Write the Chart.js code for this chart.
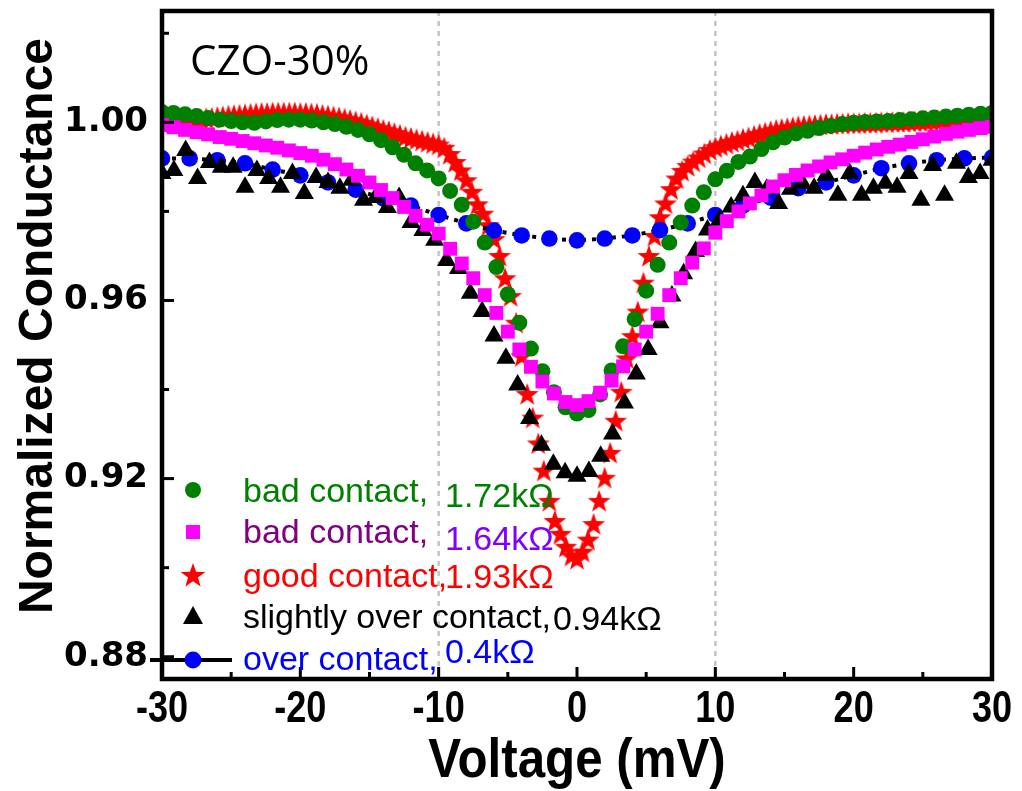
<!DOCTYPE html>
<html>
<head>
<meta charset="utf-8">
<script src="https://cdn.jsdelivr.net/npm/chart.js@4.4.0/dist/chart.umd.min.js"></script>
<style>
  html, body { margin: 0; padding: 0; background: #fff; }
  #wrap { width: 1022px; height: 791px; }
</style>
</head>
<body>
<div id="wrap"><canvas id="chart" width="1022" height="791"></canvas></div>
<script>
// Voltage grids (mV) for each measurement
const vRed = [
  -30, -29.6, -29.2, -28.8, -28.4, -28, -27.6, -27.2, -26.8, -26.4,
  -26, -25.6, -25.2, -24.8, -24.4, -24, -23.6, -23.2, -22.8, -22.4,
  -22, -21.6, -21.2, -20.8, -20.4, -20, -19.6, -19.2, -18.8, -18.4,
  -18, -17.6, -17.2, -16.8, -16.4, -16, -15.6, -15.2, -14.8, -14.4,
  -14, -13.6, -13.2, -12.8, -12.4, -12, -11.6, -11.2, -10.8, -10.4,
  -10, -9.6, -9.2, -8.8, -8.4, -8, -7.6, -7.2, -6.8, -6.4,
  -6, -5.6, -5.2, -4.8, -4.4, -4, -3.6, -3.2, -2.8, -2.4,
  -2, -1.6, -1.2, -0.8, -0.4, 0, 0.4, 0.8, 1.2, 1.6,
  2, 2.4, 2.8, 3.2, 3.6, 4, 4.4, 4.8, 5.2, 5.6,
  6, 6.4, 6.8, 7.2, 7.6, 8, 8.4, 8.8, 9.2, 9.6,
  10, 10.4, 10.8, 11.2, 11.6, 12, 12.4, 12.8, 13.2, 13.6,
  14, 14.4, 14.8, 15.2, 15.6, 16, 16.4, 16.8, 17.2, 17.6,
  18, 18.4, 18.8, 19.2, 19.6, 20, 20.4, 20.8, 21.2, 21.6,
  22, 22.4, 22.8, 23.2, 23.6, 24, 24.4, 24.8, 25.2, 25.6,
  26, 26.4, 26.8, 27.2, 27.6, 28, 28.4, 28.8, 29.2, 29.6, 30
];
const vGrid = [
  -30, -29.17, -28.33, -27.5, -26.67, -25.83, -25, -24.17, -23.33, -22.5,
  -21.67, -20.83, -20, -19.17, -18.33, -17.5, -16.67, -15.83, -15, -14.17,
  -13.33, -12.5, -11.67, -10.83, -10, -9.17, -8.33, -7.5, -6.67, -5.83,
  -5, -4.17, -3.33, -2.5, -1.67, -0.83, 0, 0.83, 1.67, 2.5,
  3.33, 4.17, 5, 5.83, 6.67, 7.5, 8.33, 9.17, 10, 10.83,
  11.67, 12.5, 13.33, 14.17, 15, 15.83, 16.67, 17.5, 18.33, 19.17,
  20, 20.83, 21.67, 22.5, 23.33, 24.17, 25, 25.83, 26.67, 27.5,
  28.33, 29.17, 30
];
const vBlack = [
  -30, -29.14, -28.29, -27.43, -26.57, -25.71, -24.86, -24, -23.14, -22.29,
  -21.43, -20.57, -19.71, -18.86, -18, -17.14, -16.29, -15.43, -14.57, -13.71,
  -12.86, -12, -11.14, -10.29, -9.43, -8.57, -7.71, -6.86, -6, -5.14,
  -4.29, -3.43, -2.57, -1.71, -0.86, 0, 0.86, 1.71, 2.57, 3.43,
  4.29, 5.14, 6, 6.86, 7.71, 8.57, 9.43, 10.29, 11.14, 12,
  12.86, 13.71, 14.57, 15.43, 16.29, 17.14, 18, 18.86, 19.71, 20.57,
  21.43, 22.29, 23.14, 24, 24.86, 25.71, 26.57, 27.43, 28.29, 29.14, 30
];
const vBlue = [
  -30, -28, -26, -24, -22, -20, -18, -16, -14, -12, -10, -8, -6, -4, -2, 0,
  2, 4, 6, 8, 10, 12, 14, 16, 18, 20, 22, 24, 26, 28, 30
];

// Normalized conductance
const gGreen = [
  1.0023, 1.0021, 1.0018, 1.0014, 1.0010, 1.0006, 1.0003, 1.0000, 0.9999, 1.0002,
  1.0005, 1.0006, 1.0006, 1.0004, 1.0000, 0.9996, 0.9990, 0.9983, 0.9973, 0.9960,
  0.9944, 0.9927, 0.9908, 0.9892, 0.9874, 0.9846, 0.9815, 0.9777, 0.9730, 0.9675,
  0.9614, 0.9550, 0.9492, 0.9441, 0.9394, 0.9360, 0.9346, 0.9354, 0.9389, 0.9443,
  0.9497, 0.9558, 0.9622, 0.9680, 0.9730, 0.9775, 0.9813, 0.9843, 0.9872, 0.9891,
  0.9911, 0.9923, 0.9940, 0.9955, 0.9966, 0.9975, 0.9981, 0.9987, 0.9992, 0.9996,
  0.9999, 1.0001, 1.0002, 1.0003, 1.0005, 1.0007, 1.0009, 1.0011, 1.0013, 1.0015,
  1.0017, 1.0019, 1.0021
];
const gPink = [
  0.9994, 0.9989, 0.9983, 0.9978, 0.9973, 0.9967, 0.9963, 0.9958, 0.9953, 0.9948,
  0.9943, 0.9937, 0.9931, 0.9925, 0.9916, 0.9906, 0.9894, 0.9880, 0.9865, 0.9848,
  0.9830, 0.9810, 0.9790, 0.9770, 0.9750, 0.9716, 0.9683, 0.9650, 0.9612, 0.9572,
  0.9530, 0.9490, 0.9451, 0.9418, 0.9391, 0.9372, 0.9365, 0.9374, 0.9393, 0.9420,
  0.9452, 0.9490, 0.9530, 0.9570, 0.9612, 0.9650, 0.9685, 0.9717, 0.9752, 0.9778,
  0.9800, 0.9818, 0.9836, 0.9856, 0.9870, 0.9882, 0.9892, 0.9901, 0.9910, 0.9917,
  0.9925, 0.9932, 0.9939, 0.9945, 0.9950, 0.9956, 0.9962, 0.9968, 0.9974, 0.9979,
  0.9983, 0.9987, 0.9990
];
const gRed = [
  0.9998, 0.9999, 1.0001, 1.0002, 1.0004, 1.0005, 1.0006, 1.0007, 1.0009, 1.0010,
  1.0012, 1.0013, 1.0015, 1.0016, 1.0017, 1.0018, 1.0019, 1.0020, 1.0021, 1.0021,
  1.0022, 1.0022, 1.0022, 1.0022, 1.0022, 1.0021, 1.0021, 1.0020, 1.0019, 1.0017,
  1.0015, 1.0013, 1.0011, 1.0008, 1.0005, 1.0002, 0.9999, 0.9995, 0.9991, 0.9987,
  0.9983, 0.9980, 0.9976, 0.9972, 0.9968, 0.9965, 0.9962, 0.9959, 0.9956, 0.9953,
  0.9950, 0.9943, 0.9929, 0.9911, 0.9892, 0.9870, 0.9844, 0.9816, 0.9795, 0.9769,
  0.9738, 0.9700, 0.9650, 0.9610, 0.9550, 0.9475, 0.9390, 0.9337, 0.9279, 0.9218,
  0.9150, 0.9105, 0.9076, 0.9047, 0.9027, 0.9020, 0.9036, 0.9063, 0.9098, 0.9150,
  0.9202, 0.9258, 0.9330, 0.9395, 0.9470, 0.9520, 0.9575, 0.9640, 0.9700, 0.9745,
  0.9787, 0.9818, 0.9850, 0.9874, 0.9891, 0.9902, 0.9912, 0.9921, 0.9930, 0.9938,
  0.9944, 0.9948, 0.9952, 0.9956, 0.9959, 0.9963, 0.9966, 0.9970, 0.9974, 0.9977,
  0.9980, 0.9983, 0.9985, 0.9987, 0.9989, 0.9991, 0.9992, 0.9993, 0.9994, 0.9995,
  0.9996, 0.9996, 0.9997, 0.9997, 0.9998, 0.9998, 0.9998, 0.9999, 0.9999, 0.9999,
  1.0000, 1.0000, 1.0001, 1.0001, 1.0001, 1.0002, 1.0002, 1.0003, 1.0003, 1.0004,
  1.0004, 1.0005, 1.0005, 1.0006, 1.0006, 1.0007, 1.0007, 1.0008, 1.0008, 1.0009, 1.0009
];
const gBlack = [
  0.9885, 0.9892, 0.9937, 0.9874, 0.9910, 0.9899, 0.9899, 0.9854, 0.9892, 0.9874,
  0.9854, 0.9885, 0.9840, 0.9876, 0.9865, 0.9852, 0.9870, 0.9825, 0.9831, 0.9809,
  0.9831, 0.9775, 0.9757, 0.9735, 0.9690, 0.9672, 0.9616, 0.9575, 0.9520, 0.9470,
  0.9410, 0.9335, 0.9275, 0.9232, 0.9213, 0.9205, 0.9216, 0.9250, 0.9300, 0.9370,
  0.9435, 0.9490, 0.9550, 0.9610, 0.9660, 0.9710, 0.9758, 0.9780, 0.9810, 0.9835,
  0.9865, 0.9850, 0.9818, 0.9850, 0.9863, 0.9852, 0.9881, 0.9836, 0.9885, 0.9836,
  0.9852, 0.9863, 0.9854, 0.9885, 0.9825, 0.9903, 0.9836, 0.9908, 0.9876, 0.9885, 0.9915
];
const gBlue = [
  0.9919, 0.9919, 0.9915, 0.9908, 0.9894, 0.9881, 0.9865, 0.9849, 0.9829, 0.9813,
  0.9792, 0.9773, 0.9757, 0.9746, 0.9739, 0.9735, 0.9739, 0.9746, 0.9758, 0.9773,
  0.9792, 0.9813, 0.9831, 0.9852, 0.9865, 0.9881, 0.9897, 0.9908, 0.9915, 0.9919, 0.9921
];

// Axis ticks
const xTicks = [-30, -20, -10, 0, 10, 20, 30];
const xMinor = [-25, -15, -5, 5, 15, 25];
const yTicks = [0.88, 0.92, 0.96, 1.00];
const yMinor = [0.90, 0.94, 0.98, 1.02];
const xGuides = [-10, 10];

// Legend text
const legendNames = ['bad contact,', 'bad contact,', 'good contact,', 'slightly over contact,', 'over contact,'];
const legendValues = ['1.72k\u03A9', '1.64k\u03A9', '1.93k\u03A9', '0.94k\u03A9', '0.4k\u03A9'];
const nameColors = ['#008000', '#800080', '#ff0000', '#000000', '#0000ff'];
const valueColors = ['#008000', '#8000ff', '#ff0000', '#000000', '#0000ff'];
const sampleLabel = 'CZO-30%';

const GREEN = '#008000', PINK = '#ff00ff', RED = '#ff0000', BLUE = '#0000ff';

function pts(xs, ys) {
    return xs.map((x, i) => ({ x: x, y: ys[i] }));
}

function starPath(ctx, cx, cy, outer, inner) {
    ctx.beginPath();
    for (let i = 0; i < 10; i++) {
        const r = i % 2 ? inner : outer;
        const a = -Math.PI / 2 + i * Math.PI / 5;
        ctx.lineTo(cx + r * Math.cos(a), cy + r * Math.sin(a));
    }
    ctx.closePath();
}

// filled star marker (Chart.js 'star' is only a line asterisk)
const starImg = document.createElement('canvas');
starImg.width = 26;
starImg.height = 26;
(function () {
    const c = starImg.getContext('2d');
    c.fillStyle = RED;
    starPath(c, 13, 14, 12, 4.8);
    c.fill();
})();

const decorations = {
    id: 'decorations',
    beforeDatasetsDraw(chart) {
        const { ctx, chartArea: a, scales: { x } } = chart;
        ctx.save();
        ctx.strokeStyle = '#c4c4c4';
        ctx.lineWidth = 2.5;
        ctx.setLineDash([5, 5]);
        xGuides.forEach(v => {
            const px = x.getPixelForValue(v);
            ctx.beginPath();
            ctx.moveTo(px, a.top);
            ctx.lineTo(px, a.bottom);
            ctx.stroke();
        });
        ctx.restore();
    },
    afterDraw(chart) {
        const { ctx, chartArea: a, scales: { x, y } } = chart;
        ctx.save();

        // frame
        ctx.strokeStyle = '#000';
        ctx.lineWidth = 4.5;
        ctx.strokeRect(a.left, a.top, a.right - a.left, a.bottom - a.top);

        // inward ticks
        ctx.lineCap = 'butt';
        ctx.lineWidth = 3;
        xTicks.forEach(v => {
            const px = x.getPixelForValue(v);
            ctx.beginPath(); ctx.moveTo(px, a.bottom); ctx.lineTo(px, a.bottom - 12); ctx.stroke();
        });
        xMinor.forEach(v => {
            const px = x.getPixelForValue(v);
            ctx.beginPath(); ctx.moveTo(px, a.bottom); ctx.lineTo(px, a.bottom - 7); ctx.stroke();
        });
        yTicks.forEach(v => {
            const py = y.getPixelForValue(v);
            ctx.beginPath(); ctx.moveTo(a.left, py); ctx.lineTo(a.left + 12, py); ctx.stroke();
        });
        yMinor.forEach(v => {
            const py = y.getPixelForValue(v);
            ctx.beginPath(); ctx.moveTo(a.left, py); ctx.lineTo(a.left + 7, py); ctx.stroke();
        });

        // x tick labels, condensed bold
        ctx.fillStyle = '#000';
        ctx.textAlign = 'center';
        ctx.textBaseline = 'alphabetic';
        ctx.font = 'bold 44px "Liberation Sans", Arial, sans-serif';
        xTicks.forEach(v => {
            ctx.save();
            ctx.translate(x.getPixelForValue(v), 722);
            ctx.scale(0.82, 1);
            ctx.fillText(String(v), 0, 0);
            ctx.restore();
        });

        // axis titles
        ctx.save();
        ctx.translate((a.left + a.right) / 2, 777);
        ctx.scale(0.88, 1);
        ctx.font = 'bold 56px "Liberation Sans", Arial, sans-serif';
        ctx.fillText('Voltage (mV)', 0, 0);
        ctx.restore();

        ctx.save();
        ctx.translate(52, 326);
        ctx.rotate(-Math.PI / 2);
        ctx.font = 'bold 48px "Liberation Sans", Arial, sans-serif';
        ctx.fillText('Normalized Conductance', 0, 0);
        ctx.restore();

        // sample label
        ctx.textAlign = 'left';
        ctx.font = '42px "Open Sans", sans-serif';
        ctx.fillText(sampleLabel, 190, 75);

        // legend
        const rowY = [490, 532, 575, 617, 660];
        const nameBase = [502, 543, 587, 628, 670];
        const valX = [445, 445, 445, 553, 445];
        const valBase = [507, 550, 588, 630, 663];
        const mx = 193;

        ctx.fillStyle = GREEN;
        ctx.beginPath(); ctx.arc(mx, rowY[0], 8, 0, Math.PI * 2); ctx.fill();

        ctx.fillStyle = PINK;
        ctx.fillRect(mx - 7, rowY[1] - 7, 14, 14);

        ctx.fillStyle = RED;
        starPath(ctx, mx, rowY[2] + 1, 13, 5.2); ctx.fill();

        ctx.fillStyle = '#000';
        ctx.beginPath();
        ctx.moveTo(mx, rowY[3] - 11);
        ctx.lineTo(mx + 10, rowY[3] + 7);
        ctx.lineTo(mx - 10, rowY[3] + 7);
        ctx.closePath(); ctx.fill();

        ctx.strokeStyle = '#000';
        ctx.lineWidth = 4;
        ctx.beginPath(); ctx.moveTo(150, rowY[4]); ctx.lineTo(232, rowY[4]); ctx.stroke();
        ctx.fillStyle = BLUE;
        ctx.beginPath(); ctx.arc(mx, rowY[4], 8.5, 0, Math.PI * 2); ctx.fill();

        ctx.font = '34px "Liberation Sans", Arial, sans-serif';
        legendNames.forEach((name, i) => {
            ctx.fillStyle = nameColors[i];
            ctx.fillText(name, 243, nameBase[i]);
            ctx.fillStyle = valueColors[i];
            ctx.fillText(legendValues[i], valX[i], valBase[i]);
        });

        ctx.restore();
    }
};

new Chart(document.getElementById('chart'), {
    type: 'scatter',
    data: {
        datasets: [
            {
                label: 'bad contact, 1.64k\u03A9',
                data: pts(vGrid, gPink),
                pointStyle: 'rect',
                pointRadius: 9.8,
                pointBackgroundColor: PINK,
                pointBorderWidth: 0
            },
            {
                label: 'bad contact, 1.72k\u03A9',
                data: pts(vGrid, gGreen),
                pointStyle: 'circle',
                pointRadius: 8,
                pointBackgroundColor: GREEN,
                pointBorderWidth: 0
            },
            {
                label: 'slightly over contact, 0.94k\u03A9',
                data: pts(vBlack, gBlack),
                pointStyle: 'triangle',
                pointRadius: 11,
                pointBackgroundColor: '#000',
                pointBorderWidth: 0
            },
            {
                label: 'over contact, 0.4k\u03A9',
                data: pts(vBlue, gBlue),
                showLine: true,
                borderColor: '#000',
                borderWidth: 4,
                borderDash: [4, 6],
                pointStyle: 'circle',
                pointRadius: 8.3,
                pointBackgroundColor: BLUE,
                pointBorderWidth: 0
            },
            {
                label: 'good contact, 1.93k\u03A9',
                data: pts(vRed, gRed),
                pointStyle: starImg,
                pointBorderWidth: 0
            }
        ]
    },
    options: {
        responsive: false,
        animation: false,
        devicePixelRatio: 1,
        events: [],
        layout: { padding: { top: 10, right: 30, left: 0, bottom: 0 } },
        plugins: {
            legend: { display: false },
            tooltip: { enabled: false }
        },
        scales: {
            x: {
                type: 'linear',
                min: -30,
                max: 30,
                afterFit: s => { s.height = 112; s.paddingLeft = 0; s.paddingRight = 0; },
                afterBuildTicks: s => { s.ticks = xTicks.map(v => ({ value: v })); },
                grid: { display: false, drawTicks: false },
                border: { display: false },
                ticks: { display: false }
            },
            y: {
                type: 'linear',
                min: 0.875,
                max: 1.025,
                afterFit: s => { s.width = 162; s.paddingTop = 0; s.paddingBottom = 0; },
                afterBuildTicks: s => { s.ticks = yTicks.map(v => ({ value: v })); },
                grid: { display: false, drawTicks: false },
                border: { display: false },
                ticks: {
                    color: '#000',
                    padding: 14,
                    font: { family: '"DejaVu Sans", sans-serif', size: 34, weight: 'bold' },
                    callback: v => v.toFixed(2)
                }
            }
        }
    },
    plugins: [decorations]
});
</script>
</body>
</html>
